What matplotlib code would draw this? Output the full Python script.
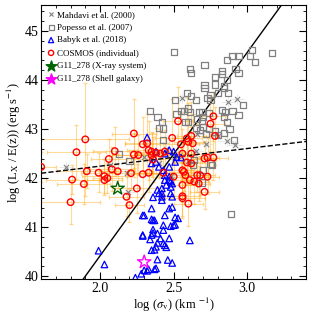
import matplotlib
matplotlib.use("Agg")
import matplotlib.pyplot as plt
import numpy as np

plt.rcParams['font.family'] = 'Liberation Serif'
plt.rcParams['mathtext.fontset'] = 'stix'

# Mahdavi et al. (2000)
mah_x = [1.77, 2.07, 2.18, 2.19, 2.30, 2.56, 2.87, 2.93, 2.92, 2.86, 2.72, 2.45, 2.40, 2.53, 2.65, 2.66, 2.48, 2.60, 2.80]
mah_y = [42.22, 42.26, 42.10, 41.72, 42.43, 43.63, 43.56, 43.61, 42.67, 42.76, 42.70, 42.60, 42.30, 42.45, 42.55, 42.90, 42.05, 42.35, 42.85]

# Popesso et al. (2007)
pop_x = [2.50, 3.17, 2.71, 2.61, 2.62, 2.90, 2.94, 2.86, 3.03, 3.05, 3.02, 2.83, 2.83, 2.92, 2.94, 2.78,
         2.71, 2.71, 2.78, 2.86, 2.84, 2.59, 2.51, 2.62, 2.65, 2.75, 2.73, 2.75, 2.87, 2.80, 2.84, 2.97,
         2.34, 2.52, 2.57, 2.60, 2.61, 2.67, 2.69, 2.74, 2.83, 2.85, 2.90, 2.94, 2.42, 2.40, 2.58, 2.60,
         2.66, 2.84, 2.86, 2.13, 2.20, 2.89, 2.69, 2.75, 2.76, 2.64, 2.63, 2.70, 2.70, 2.74, 2.72, 2.78,
         2.80, 2.68, 2.65, 2.84, 2.88, 2.91, 2.39, 2.43, 2.43, 2.55, 2.70, 2.69]
pop_y = [44.57, 44.55, 44.31, 44.23, 44.14, 44.49, 44.49, 44.41, 44.61, 44.37, 44.49, 44.18, 44.12, 44.22, 44.14, 44.06,
         43.90, 43.84, 43.91, 44.00, 43.88, 43.73, 43.59, 43.67, 43.59, 43.69, 43.63, 43.59, 43.73, 43.73, 43.83, 43.49,
         43.37, 43.31, 43.37, 43.42, 43.35, 43.35, 43.35, 43.33, 43.39, 43.35, 43.37, 43.29, 43.15, 43.03, 43.15, 43.14,
         43.20, 43.25, 43.15, 42.49, 42.35, 41.27, 41.91, 42.30, 42.27, 42.37, 42.27, 42.16, 43.05, 43.00, 42.90, 42.95,
         42.88, 42.98, 43.02, 42.92, 43.00, 42.78, 43.25, 43.01, 42.78, 43.37, 43.25, 43.17]

# Babyk et al. (2018)
bab_x = [2.32, 2.38, 2.44, 2.47, 2.50, 2.52, 2.55, 2.35, 2.51, 2.47, 2.44, 2.47, 2.49, 2.45, 2.48,
         2.40, 2.42, 2.39, 2.36, 2.49, 2.38, 2.40, 2.43, 2.44, 2.47, 2.48, 2.48, 2.42, 2.42,
         1.99, 2.03, 2.29, 2.36, 2.30, 2.35, 2.29, 2.35, 2.37, 2.44, 2.47, 2.49, 2.51, 2.53, 2.48, 2.51,
         2.36, 2.36, 2.35, 2.34, 2.29, 2.39, 2.43, 2.41, 2.39, 2.43, 2.44, 2.45, 2.47, 2.37, 2.61,
         2.39, 2.46, 2.49, 2.37, 2.30, 2.32, 2.33, 2.28, 2.24, 2.42, 2.50, 2.43, 2.38, 2.35, 2.38]
bab_y = [42.83, 42.54, 42.50, 42.57, 42.54, 42.43, 42.42, 42.30, 42.33, 42.23, 41.96, 41.96, 41.89, 41.86, 41.82,
         41.69, 41.62, 41.76, 41.61, 41.62, 42.33, 42.23, 42.16, 42.06, 42.03, 41.93, 41.69, 41.79, 41.69,
         40.52, 40.24, 41.24, 41.14, 41.24, 41.38, 40.82, 41.16, 41.14, 41.24, 41.38, 41.41, 41.20, 41.18, 41.02, 41.05,
         40.95, 40.88, 40.84, 40.75, 40.84, 40.87, 40.94, 40.77, 40.68, 40.67, 40.63, 40.59, 40.77, 40.54, 40.73,
         40.34, 40.33, 40.27, 40.14, 40.12, 40.11, 40.14, 40.05, 39.97, 41.55, 41.04, 41.04, 40.60, 40.53, 40.16]

# COSMOS (individual)
cos_x = [1.60, 1.90, 1.84, 2.10, 2.06, 2.23, 1.91, 1.81, 1.99, 2.03, 2.05, 2.03, 2.08, 2.12, 1.89, 1.80,
         2.18, 2.20, 2.25, 2.33, 2.35, 2.53, 2.77, 2.75, 2.78, 2.49, 2.62, 2.55, 2.60, 2.63, 2.44, 2.41,
         2.35, 2.62, 2.73, 2.77, 2.23, 2.59, 2.29, 2.32, 2.26, 2.38, 2.36, 2.56, 2.59, 2.62, 2.71, 2.21,
         2.29, 2.33, 2.43, 2.50, 2.56, 2.57, 2.66, 2.68, 2.73, 2.61, 2.64, 2.71, 2.56, 2.60, 2.56, 2.67,
         2.58, 2.56]
cos_y = [42.23, 42.79, 42.53, 42.55, 42.39, 42.48, 42.14, 41.97, 42.11, 42.04, 42.00, 41.96, 42.18, 42.14, 41.88, 41.51,
         41.62, 41.45, 41.79, 42.57, 42.47, 43.16, 43.26, 43.11, 42.86, 42.82, 42.86, 42.69, 42.74, 42.71, 42.54, 42.50,
         42.54, 42.50, 42.42, 42.42, 42.91, 42.81, 42.69, 42.71, 42.47, 42.52, 42.38, 42.50, 42.32, 42.30, 42.40, 42.10,
         42.08, 42.11, 42.11, 42.03, 42.16, 42.13, 42.06, 42.06, 42.03, 41.96, 41.93, 41.72, 41.63, 41.48, 41.59, 41.89,
         42.06, 41.86]
cos_xerr = [0.10, 0.30, 0.20, 0.15, 0.12, 0.15, 0.20, 0.18, 0.12, 0.15, 0.10, 0.12, 0.15, 0.12, 0.18, 0.20,
            0.12, 0.10, 0.15, 0.15, 0.12, 0.10, 0.08, 0.10, 0.08, 0.12, 0.10, 0.12, 0.10, 0.08, 0.12, 0.15,
            0.15, 0.10, 0.08, 0.10, 0.15, 0.10, 0.12, 0.15, 0.18, 0.12, 0.15, 0.10, 0.10, 0.12, 0.08, 0.15,
            0.12, 0.15, 0.12, 0.10, 0.12, 0.10, 0.08, 0.10, 0.08, 0.12, 0.10, 0.10, 0.12, 0.10, 0.15, 0.08,
            0.12, 0.10]
cos_yerr = [0.30, 1.15, 0.55, 0.50, 0.40, 0.45, 0.35, 0.30, 0.40, 0.35, 0.30, 0.30, 0.45, 0.35, 0.40, 0.45,
            0.40, 0.35, 0.50, 0.60, 0.45, 0.70, 0.50, 0.55, 0.60, 0.80, 0.70, 0.65, 0.80, 0.60, 0.45, 0.50,
            0.40, 0.55, 0.40, 0.45, 0.70, 0.85, 0.55, 0.60, 0.40, 0.50, 0.45, 0.50, 0.40, 0.45, 0.35, 0.35,
            0.40, 0.40, 0.45, 0.40, 0.45, 0.40, 0.35, 0.40, 0.35, 0.40, 0.45, 0.35, 0.40, 0.45, 0.40, 0.35,
            0.40, 0.35]

# G11_278
g11_xray = (2.12, 41.79)
g11_shell = (2.30, 40.29)

# relations
steep_slope, steep_x0, steep_y0 = 4.15, 1.90, 40.0
flat_slope, flat_x0, flat_y0 = 0.36, 1.60, 42.10

fig = plt.figure(figsize=(3.14, 3.14), dpi=100)
ax = fig.add_axes([0.131, 0.111, 0.844, 0.873])

ax.errorbar(cos_x, cos_y, xerr=cos_xerr, yerr=cos_yerr, fmt='none', ecolor='orange',
            alpha=0.4, elinewidth=0.8, capsize=1.5, zorder=1)
ax.errorbar(mah_x, mah_y, xerr=0.05, yerr=0.1, fmt='none', ecolor='lightgrey',
            alpha=0.6, elinewidth=0.6, zorder=1)

ax.scatter(mah_x, mah_y, marker='x', s=14, color='grey', linewidths=0.8, label='Mahdavi et al. (2000)', zorder=3)
ax.scatter(pop_x, pop_y, marker='s', s=20, facecolors='none', edgecolors='grey', linewidths=0.9,
           label='Popesso et al. (2007)', zorder=3)
ax.scatter(bab_x, bab_y, marker='^', s=22, facecolors='none', edgecolors='blue', linewidths=0.9,
           label='Babyk et al. (2018)', zorder=3)
ax.scatter(cos_x, cos_y, marker='o', s=22, facecolors='none', edgecolors='red', linewidths=1.0,
           label='COSMOS (individual)', zorder=4)
ax.scatter(*g11_xray, marker='*', s=100, facecolors='none', edgecolors='darkgreen', linewidths=1.0,
           label='G11_278 (X-ray system)', zorder=5)
ax.scatter(*g11_shell, marker='*', s=100, facecolors='none', edgecolors='magenta', linewidths=1.0,
           label='G11_278 (Shell galaxy)', zorder=5)

xl = np.array([1.6, 3.4])
ax.plot(xl, steep_y0 + steep_slope * (xl - steep_x0), color='black', lw=1.0, zorder=2)
ax.plot(xl, flat_y0 + flat_slope * (xl - flat_x0), color='black', lw=1.0, ls='--', zorder=2)

ax.set_xlim(1.6, 3.4)
ax.set_ylim(39.94, 45.53)
ax.set_xticks([2.0, 2.5, 3.0])
ax.set_xticklabels(['2.0', '2.5', '3.0'])
ax.set_yticks([40, 41, 42, 43, 44, 45])
ax.minorticks_on()
ax.tick_params(which='both', direction='in', top=True, right=True, labelsize=10)
ax.tick_params(which='major', length=5, pad=2)
ax.tick_params(which='minor', length=2.5)
ax.set_xlabel(r'log ($\sigma_{\rm v}$) (km $^{-1}$)', fontsize=9, labelpad=1)
ax.set_ylabel(r'log (L$_{\rm X}$ / E(z)) (erg s$^{-1}$)', fontsize=9, labelpad=1)

leg = ax.legend(loc='upper left', frameon=False, fontsize=6.5, handletextpad=0.2,
                borderaxespad=0.2, labelspacing=0.5, handlelength=1.0, markerscale=0.8)
for h in leg.legend_handles[4:]:
    h.set_facecolor(h.get_edgecolor())

fig.savefig('out.png', dpi=100)
